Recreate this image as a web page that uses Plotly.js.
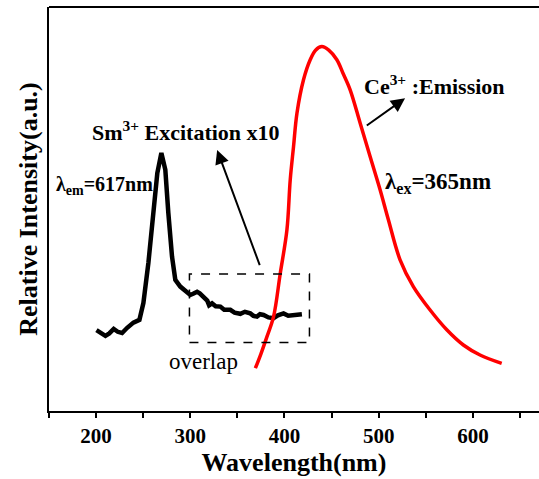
<!DOCTYPE html>
<html>
<head>
<meta charset="utf-8">
<script src="https://cdn.plot.ly/plotly-3.0.1.min.js"></script>
<style>html,body{margin:0;padding:0;background:#fff;overflow:hidden}#chart{width:539px;height:479px}</style>
</head>
<body>
<div id="chart"></div>
<script>
// Sm3+ excitation spectrum (x10), lambda_em = 617 nm
const smWavelength = [200.4, 204, 209.9, 214, 218.7, 223, 227.6, 233, 239.6, 246, 250.2, 255.5, 260.8, 265, 269.3, 273.5, 276.7, 280.6, 284.1, 289.4, 295, 300, 303, 307.2, 310, 314.2, 318, 320, 323.1, 327, 331.9, 336, 342.5, 347, 353.1, 358, 363.7, 367, 370.8, 374, 377.8, 383, 388.4, 393, 399, 404, 409.6, 414, 418.5];
const smIntensity  = [20.2, 19.6, 18.8, 19.4, 20.5, 19.8, 19.5, 20.8, 22.1, 22.8, 27.0, 37.0, 49.5, 59.5, 64.5, 60.3, 49.5, 38.6, 32.8, 31.1, 30.0, 29.0, 29.3, 29.8, 29.4, 28.6, 27.6, 26.4, 26.9, 26.2, 26.1, 25.3, 25.3, 24.6, 24.3, 24.8, 24.4, 23.8, 23.6, 24.2, 24.0, 23.4, 23.2, 23.9, 24.4, 23.8, 24.0, 24.3, 24.2];

// Ce3+ emission spectrum, lambda_ex = 365 nm
const ceWavelength = [369.1, 375, 381.4, 388.4, 395.5, 402.6, 406.1, 409.6, 413.2, 420.2, 427.3, 433, 439.7, 447, 455.6, 462, 469.7, 480.3, 490.9, 501.5, 510.3, 522.7, 536.8, 554.4, 572.3, 589.9, 607.6, 630.6];
const ceIntensity  = [10.7, 14.3, 18.6, 23.6, 34.4, 45.3, 57.8, 66.1, 74.4, 82.8, 87.8, 90.2, 91.1, 90.2, 87.8, 84.5, 80.3, 72.0, 63.6, 55.3, 47.8, 37.8, 31.1, 25.3, 20.3, 16.5, 14.0, 11.9];

const xTickValues = [200, 300, 400, 500, 600];
const xTickLabels = ["200", "300", "400", "500", "600"];

// overlap box corners and arrow endpoints (data units)
const overlapBoxX = [299.1, 426.5];
const overlapBoxY = [17.1, 34.25];
const smArrowTail = [374.3, 36.1];
const smArrowTip = [328.5, 65.25];
const ceArrowTail = [485.8, 71.1];
const ceArrowTip = [528.0, 78.2];

const FONT = '"Liberation Serif", "Times New Roman", serif';

const traces = [
  {x: smWavelength, y: smIntensity, type: 'scatter', mode: 'lines',
   line: {color: '#000000', width: 4.5}, hoverinfo: 'skip'},
  {x: ceWavelength, y: ceIntensity, type: 'scatter', mode: 'lines',
   line: {color: '#ff0000', width: 3.5, shape: 'spline'}, hoverinfo: 'skip'}
];

const layout = {
  width: 539, height: 479,
  margin: {l: 48.5, r: 0, t: 6.7, b: 68},
  paper_bgcolor: '#ffffff', plot_bgcolor: '#ffffff',
  showlegend: false,
  font: {family: FONT, color: '#000000'},
  xaxis: {
    range: [150, 670.2], showgrid: false, zeroline: false,
    showline: true, linecolor: '#000', linewidth: 2, mirror: false,
    tickmode: 'array', tickvals: xTickValues, ticktext: xTickLabels,
    ticks: 'outside', ticklen: 5, tickwidth: 2, tickcolor: '#000',
    minor: {dtick: 50, tick0: 150, ticks: 'outside', ticklen: 5, tickwidth: 2, tickcolor: '#000'},
    tickfont: {family: FONT, size: 21, color: '#000', weight: 'bold'},
    title: {text: '<b>Wavelength(nm)</b>', font: {family: FONT, size: 26, color: '#000'}, standoff: 1}
  },
  yaxis: {
    range: [0, 101], showgrid: false, zeroline: false,
    showline: true, linecolor: '#000', linewidth: 2,
    showticklabels: false, ticks: '',
    title: {text: '<b>Relative Intensity(a.u.)</b>', font: {family: FONT, size: 26, color: '#000'}, standoff: 2}
  },
  shapes: [
    {type: 'line', xref: 'paper', yref: 'paper', x0: 0, x1: 1, y0: 1, y1: 1,
     line: {color: '#000', width: 2}},
    {type: 'rect', xref: 'x', yref: 'y', x0: overlapBoxX[0], x1: overlapBoxX[1], y0: overlapBoxY[0], y1: overlapBoxY[1],
     line: {color: '#000', width: 1.5, dash: 'dash'}}
  ],
  annotations: [
    {x: 194, y: 70, xref: 'x', yref: 'y', xanchor: 'left', yanchor: 'middle', showarrow: false,
     text: '<b>Sm<sup>3+</sup> Excitation x10</b>', font: {family: FONT, size: 22, color: '#000'}},
    {x: 154.8, y: 56.5, xref: 'x', yref: 'y', xanchor: 'left', yanchor: 'middle', showarrow: false,
     text: '<b>λ<sub>em</sub>=617nm</b>', font: {family: FONT, size: 20, color: '#000'}},
    {x: 504.7, y: 57, xref: 'x', yref: 'y', xanchor: 'left', yanchor: 'middle', showarrow: false,
     text: '<b>λ<sub>ex</sub>=365nm</b>', font: {family: FONT, size: 23, color: '#000'}},
    {x: 482.1, y: 81.5, xref: 'x', yref: 'y', xanchor: 'left', yanchor: 'middle', showarrow: false,
     text: '<b>Ce<sup>3+</sup> :Emission</b>', font: {family: FONT, size: 22, color: '#000'}},
    {x: 275.5, y: 12.3, xref: 'x', yref: 'y', xanchor: 'left', yanchor: 'middle', showarrow: false,
     text: 'overlap', font: {family: FONT, size: 23, color: '#000'}},
    {x: smArrowTip[0], y: smArrowTip[1], ax: smArrowTail[0], ay: smArrowTail[1],
     xref: 'x', yref: 'y', axref: 'x', ayref: 'y', text: '', showarrow: true,
     arrowhead: 2, arrowsize: 1.4, arrowwidth: 2, arrowcolor: '#000'},
    {x: ceArrowTip[0], y: ceArrowTip[1], ax: ceArrowTail[0], ay: ceArrowTail[1],
     xref: 'x', yref: 'y', axref: 'x', ayref: 'y', text: '', showarrow: true,
     arrowhead: 2, arrowsize: 1.4, arrowwidth: 2, arrowcolor: '#000'}
  ]
};

Plotly.newPlot('chart', traces, layout, {staticPlot: true, displayModeBar: false});
</script>
</body>
</html>
